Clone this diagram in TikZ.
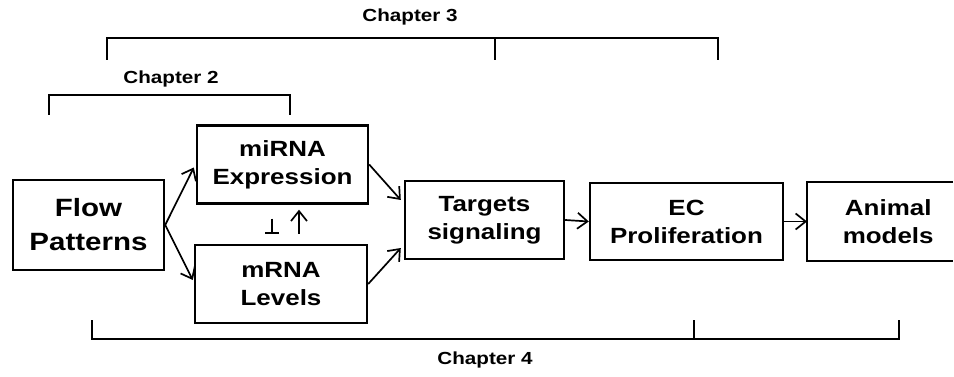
\documentclass[tikz,border=0pt]{standalone}
\usepackage{fontspec}
\usepackage{tikz}
\usetikzlibrary{calc}
\usetikzlibrary{arrows.meta}
\newfontfamily\diagfont{Liberation Sans}[FakeStretch=1.18]
\tikzstyle{stagebox} = [draw=black, line width=2.4pt, rectangle,
align=center, inner sep=0pt, font=\diagfont\bfseries\fontsize{22}{28}\selectfont]
\tikzstyle{flowline} = [line width=1.7pt, -{Straight Barb[length=10pt,width=16pt]}]
\tikzstyle{bracket} = [line width=2.2pt]
\tikzstyle{chaptitle} = [font=\diagfont\bfseries\fontsize{17.5}{20}\selectfont]

\begin{document}
\begin{tikzpicture}[x=1pt, y=-1pt]
        \useasboundingbox (0,0) rectangle (954,377);
        % boxes
        \node [stagebox, minimum width=151pt, minimum height=90pt,
        font=\diagfont\bfseries\fontsize{25}{34}\selectfont] (flow) at (88.5,225) {Flow\\Patterns};
        \node [stagebox, minimum width=171pt, minimum height=78pt] (mirna) at (282.5,164.5) {miRNA\\Expression};
        \node [stagebox, minimum width=172pt, minimum height=78pt] (mrna) at (281,284) {mRNA\\Levels};
        \node [stagebox, minimum width=159pt, minimum height=78pt] (targets) at (484.5,220) {Targets\\signaling};
        \node [stagebox, minimum width=193pt, minimum height=77pt] (ec) at (686.5,221.5) {EC\\Proliferation};
        \node [stagebox, draw=none, minimum width=160pt, minimum height=77pt,
        anchor=west] (animal) at (807,221.5) {Animal\\models};
        \draw [line width=2.4pt] (animal.north west -| 953,0) -- (animal.north west)
        -- (animal.south west) -- (animal.south west -| 953,0);
        % arrows
        \draw [flowline] (flow.east) -- ($(mirna.west)+(-2,3)$);
        \draw [flowline] (flow.east) -- ($(mrna.west)+(-1,-4)$);
        \draw [flowline] (mirna.east) -- ($(targets.west)+(-3,-20)$);
        \draw [flowline] (mrna.east) -- ($(targets.west)+(-3,28)$);
        \draw [flowline] (targets.east) -- (ec.west);
        \draw [flowline] (ec.east) -- (animal.west);
        \draw [line width=1.7pt, -{Bar[width=14pt]}, shorten <=14pt, shorten >=10pt]
        ($(mirna.south)+(-10.5,0)$) -- ($(mrna.north)+(-9,0)$);
        \draw [flowline, shorten <=10pt, shorten >=5pt]
        ($(mrna.north)+(18,0)$) -- ($(mirna.south)+(16.5,0)$);
        % chapters
        \draw [bracket] (107,60) -- (107,38) -- (718,38) -- (718,60);
        \draw [bracket] (495,38) -- (495,60);
        \node [chaptitle] (chap3) at (410,17) {Chapter 3};
        \draw [bracket] (49,115) -- (49,95) -- (290,95) -- (290,115);
        \node [chaptitle] (chap2) at (171,79) {Chapter 2};
        \draw [bracket] (92,320) -- (92,339) -- (899,339) -- (899,320);
        \draw [bracket] (694,339) -- (694,320);
        \node [chaptitle] (chap4) at (485,360) {Chapter 4};
\end{tikzpicture}
\end{document}
